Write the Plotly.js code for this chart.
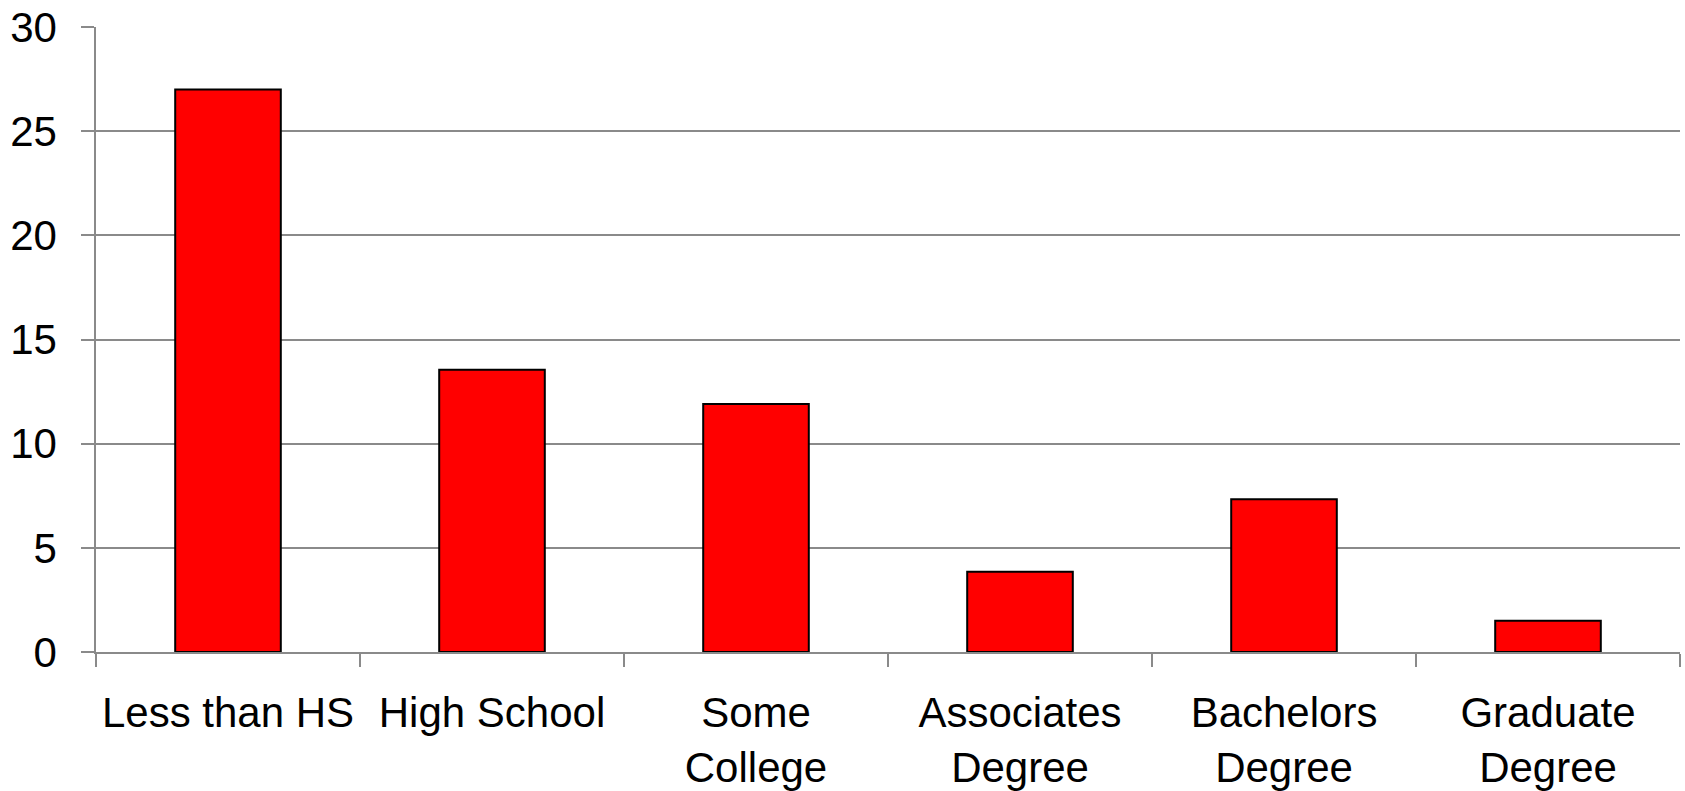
<!DOCTYPE html>
<html>
<head>
<meta charset="utf-8">
<script src="https://cdn.plot.ly/plotly-3.0.1.min.js"></script>
<style>
  html, body { margin: 0; padding: 0; background: #ffffff; }
  #chart { width: 1685px; height: 791px; }
</style>
</head>
<body>
<div id="chart"></div>
<script>
const categories = [
  "Less than HS",
  "High School",
  "Some<br>College",
  "Associates<br>Degree",
  "Bachelors<br>Degree",
  "Graduate<br>Degree"
];
const values = [27.0, 13.55, 11.9, 3.85, 7.33, 1.5];
const yTickValues = [0, 5, 10, 15, 20, 25, 30];

const gridColor = "#8a8a8a";
const fontFamily = "'Liberation Sans', Arial, sans-serif";

const trace = {
  type: "bar",
  x: categories,
  y: values,
  marker: { color: "#ff0000", line: { color: "#000000", width: 2 } },
  hoverinfo: "x+y"
};

const layout = {
  width: 1685,
  height: 791,
  margin: { l: 96, r: 5, t: 27, b: 139, pad: 0 },
  paper_bgcolor: "#ffffff",
  plot_bgcolor: "#ffffff",
  bargap: 0.6,
  showlegend: false,
  font: { family: fontFamily, size: 42, color: "#000000" },
  xaxis: {
    type: "category",
    showline: true,
    linecolor: gridColor,
    linewidth: 1.5,
    ticks: "outside",
    tickson: "boundaries",
    ticklen: 13,
    tickcolor: gridColor,
    tickwidth: 1.5,
    showgrid: false,
    zeroline: false,
    ticklabelstandoff: 23,
    tickfont: { family: fontFamily, size: 42, color: "#000000" }
  },
  yaxis: {
    range: [0, 30],
    tickvals: yTickValues,
    ticktext: yTickValues.map(String),
    showline: true,
    linecolor: gridColor,
    linewidth: 1.5,
    ticks: "outside",
    ticklen: 13,
    tickcolor: gridColor,
    tickwidth: 1.5,
    showgrid: true,
    gridcolor: gridColor,
    gridwidth: 1.5,
    zeroline: false,
    ticklabelstandoff: 16,
    tickfont: { family: fontFamily, size: 42, color: "#000000" }
  }
};

Plotly.newPlot("chart", [trace], layout, { displayModeBar: false, staticPlot: false });
</script>
</body>
</html>
